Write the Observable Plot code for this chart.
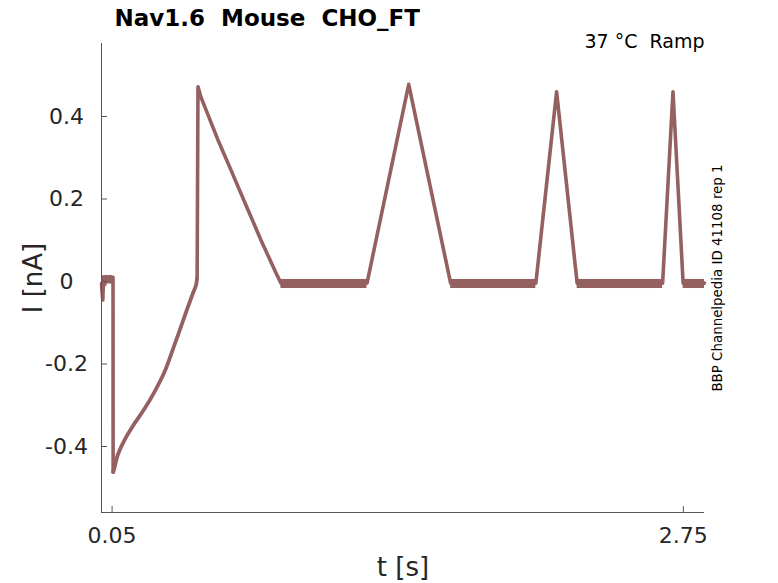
<!DOCTYPE html>
<html><head><meta charset="utf-8">
<script src="https://cdn.jsdelivr.net/npm/d3@7"></script>
<script src="https://cdn.jsdelivr.net/npm/@observablehq/plot@0.6"></script>
<style>html,body{margin:0;padding:0;background:#fff} svg{font-family:"DejaVu Sans";}</style>
</head><body><div id="chart"></div>
<script>
const titleText = "Nav1.6  Mouse  CHO_FT";
const conditionText = "37 °C  Ramp";
const sourceText = "BBP Channelpedia ID 41108 rep 1";
const xLabel = "t [s]";
const yLabel = "I [nA]";
const xTicks = [0.05, 2.75];
const xTickLabels = ["0.05", "2.75"];
const yTicks = [-0.4, -0.2, 0, 0.2, 0.4];
const yTickLabels = ["-0.4", "-0.2", "0", "0.2", "0.4"];
const tDomain = [0, 2.85];
const iDomain = [-0.56, 0.577];

// first (curved) recovery ramp: time (s), current (nA)
const recoveryT = [0.0550, 0.061, 0.077, 0.108, 0.155, 0.2025, 0.250, 0.297, 0.344, 0.391, 0.431, 0.446, 0.452];
const recoveryI = [-0.462, -0.452, -0.420, -0.385, -0.345, -0.309, -0.268, -0.220, -0.155, -0.087, -0.030, -0.010, 0.008];

// rest of the current trace: time (s), current (nA)
const traceT = [0.000, 0.006, 0.010, 0.015, 0.022, 0.030, 0.040, 0.048, 0.0545, 0.0550, 0.452, 0.456, 0.470, 0.549, 0.612, 0.683, 0.754, 0.827, 0.848, 1.255, 1.452, 1.650, 2.053, 2.151, 2.248, 2.652, 2.701, 2.749, 2.850];
const traceI = [-0.005, -0.045, 0.008, -0.008, 0.012, 0.008, 0.012, 0.008, 0.010, -0.462, 0.008, 0.472, 0.447, 0.345, 0.270, 0.185, 0.100, 0.018, -0.004, -0.004, 0.478, -0.004, -0.004, 0.460, -0.004, -0.004, 0.460, -0.004, -0.004];

// noise envelope of the holding periods
const holdStart = [0.003, 0.848, 1.650, 2.248, 2.749];
const holdEnd = [0.054, 1.255, 2.053, 2.652, 2.850];
const holdLow = [-0.006, -0.017, -0.017, -0.017, -0.017];
const holdHigh = [0.014, 0.005, 0.005, 0.005, 0.005];

const recovery = recoveryT.map((t, i) => ({t, i: recoveryI[i]}));
// split the main trace around the recovery ramp into two separate pieces
const trace = traceT.map((t, k) => ({t, i: traceI[k], part: k <= 9 ? 0 : 1}));
const holds = holdStart.map((s, k) => ({s, e: holdEnd[k], lo: holdLow[k], hi: holdHigh[k]}));
const traceColor = "#946060";
const textColor = "#262626";

const chart = Plot.plot({
  width: 778, height: 583,
  marginLeft: 101, marginRight: 74, marginTop: 43, marginBottom: 71,
  style: {fontFamily: "DejaVu Sans", background: "white", color: textColor, overflow: "visible"},
  x: {domain: tDomain},
  y: {domain: iDomain},
  marks: [
    Plot.rect(holds, {x1: "s", x2: "e", y1: "lo", y2: "hi", fill: traceColor}),
    Plot.line(trace, {x: "t", y: "i", z: "part", stroke: traceColor, strokeWidth: 3.6}),
    Plot.line(recovery, {x: "t", y: "i", stroke: traceColor, strokeWidth: 3.8, curve: "catmull-rom"}),
    Plot.ruleX([tDomain[0]], {stroke: "#555", strokeWidth: 1}),
    Plot.ruleY([iDomain[0]], {stroke: "#555", strokeWidth: 1}),
    Plot.axisX(xTicks, {tickSize: -6, tickPadding: 21, fontSize: 22, color: textColor, stroke: "#555",
      tickFormat: d => xTickLabels[xTicks.indexOf(d)], label: null}),
    Plot.axisY(yTicks, {tickSize: -6, tickPadding: 41, textAnchor: "middle", fontSize: 22, color: textColor, stroke: "#555",
      tickFormat: d => yTickLabels[yTicks.indexOf(d)], label: null}),
    Plot.text([titleText], {frameAnchor: "top-left", dx: 13, dy: -34, textAnchor: "start", fontSize: 23, fontWeight: "bold", fill: "#000"}),
    Plot.text([conditionText], {frameAnchor: "top-right", dx: 0, dy: -9, textAnchor: "end", fontSize: 19, fill: "#000"}),
    Plot.text([sourceText], {frameAnchor: "right", dx: 13, rotate: -90, textAnchor: "middle", fontSize: 13.4, fill: "#000"}),
    Plot.text([xLabel], {frameAnchor: "bottom", dy: 63, fontSize: 26, fill: textColor}),
    Plot.text([yLabel], {frameAnchor: "left", dx: -68, rotate: -90, textAnchor: "middle", fontSize: 26, fill: textColor})
  ]
});
document.getElementById("chart").appendChild(chart);
</script>
</body></html>
